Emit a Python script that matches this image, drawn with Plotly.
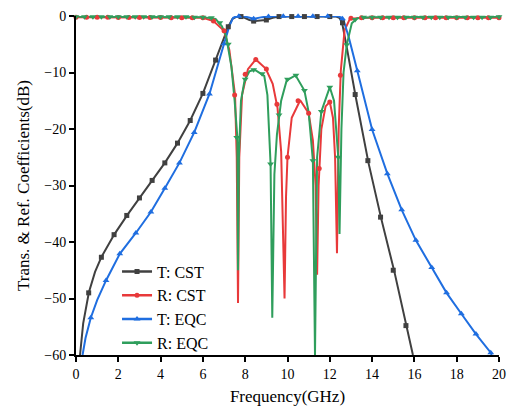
import plotly.graph_objects as go

# ---------------- data ----------------
# T: CST (transmission, CST simulation)
tcst_f = [0.19, 0.34, 0.61, 0.9, 1.21, 1.82, 2.43, 3.0, 3.6, 4.2, 4.8, 5.4, 6.0, 6.6, 7.0, 7.2, 7.4, 7.6,
          7.9, 8.2, 8.46, 8.97, 9.3, 9.6, 10.5, 11.5, 12.3, 12.45, 12.57, 12.8, 13.22, 13.83, 14.44,
          15.05, 15.6, 15.93]
tcst_db = [-60, -54.4, -48.9, -45.3, -42.6, -38.6, -35.2, -32.2, -29.1, -26.0, -22.5, -18.5, -13.7, -7.8,
           -4.0, -1.9, -0.5, -0.1, -0.2, -0.7, -0.9, -0.7, -0.3, -0.1, -0.1, -0.1, -0.1, -0.3, -1.0,
           -5.5, -14.2, -26.0, -36.0, -45.2, -54.8, -60]
tcst_mk_f = [0.6, 1.2, 1.8, 2.4, 3.0, 3.6, 4.2, 4.8, 5.4, 6.0, 6.6, 7.2, 7.8, 8.4, 9.0, 9.6, 10.2, 10.8,
             11.4, 12.0, 12.6, 13.2, 13.8, 14.4, 15.0, 15.6]
tcst_mk_db = [-49.0, -42.7, -38.7, -35.3, -32.2, -29.1, -26.0, -22.5, -18.5, -13.7, -7.8, -1.9, -0.1,
              -0.9, -0.7, -0.1, -0.1, -0.1, -0.1, -0.1, -1.2, -13.9, -25.6, -35.6, -45.0, -54.8]

# R: CST (reflection, CST simulation)
rcst_f = [0, 3, 6, 6.5, 7.0, 7.25, 7.52, 7.6, 7.66, 7.72, 7.85, 8.13, 8.5, 8.97, 9.3, 9.53, 9.7, 9.86,
          9.93, 10.0, 10.2, 10.6, 11.0, 11.2, 11.33, 11.4, 11.47, 11.6, 11.8, 12.0, 12.15, 12.25, 12.34,
          12.42, 12.52, 12.7, 12.95, 13.5, 20]
rcst_db = [-0.2, -0.25, -0.3, -0.9, -2.6, -6.0, -14.0, -25.0, -50.8, -25.0, -14.0, -9.4, -7.7, -9.3,
           -12.0, -16.3, -24.0, -50.0, -32.0, -25.0, -18.0, -14.9, -17.2, -22.0, -30.0, -45.8, -30.0,
           -20.0, -16.0, -15.2, -18.0, -25.0, -42.0, -20.0, -9.7, -2.5, -0.5, -0.3, -0.3]
rcst_mk_f = [0, 0.5, 1, 1.5, 2, 2.5, 3, 3.5, 4, 4.5, 5, 5.5, 6, 6.5, 7, 7.5, 8, 8.5, 9, 9.5, 10, 10.5,
             11, 11.5, 12, 12.5, 13, 13.5, 14, 14.5, 15, 15.5, 16, 16.5, 17, 17.5, 18, 18.5, 19, 19.5, 20]
rcst_mk_db = [-0.2, -0.2, -0.2, -0.2, -0.25, -0.25, -0.25, -0.25, -0.25, -0.3, -0.3, -0.3, -0.3, -0.9,
              -2.6, -14.0, -10.3, -7.7, -9.4, -15.6, -25.0, -15.0, -17.2, -27.0, -15.2, -10.5, -0.4,
              -0.3, -0.3, -0.3, -0.3, -0.3, -0.3, -0.3, -0.3, -0.3, -0.3, -0.3, -0.3, -0.3, -0.3]

# T: EQC (transmission, equivalent circuit)
teqc_f = [0.31, 0.45, 0.7, 1.0, 1.42, 2.07, 2.83, 3.54, 4.2, 4.89, 5.59, 6.31, 7.0, 7.25, 7.43, 7.6, 8.0,
          8.4, 8.8, 9.3, 12.4, 12.55, 12.65, 12.9, 13.3, 14.0, 14.72, 15.4, 16.07, 16.82, 17.52, 18.22,
          18.91, 19.61, 19.65]
teqc_db = [-60, -57.0, -53.4, -50.3, -46.8, -42.1, -38.4, -34.7, -30.5, -26.0, -20.6, -13.8, -4.9, -1.8,
           -0.3, -0.05, -0.1, -0.5, -0.2, -0.05, -0.05, -0.3, -0.7, -3.8, -9.7, -20.1, -27.9, -34.3,
           -39.7, -44.5, -49.0, -52.7, -56.3, -59.6, -60]
teqc_mk_f = [0.7, 1.42, 2.07, 2.83, 3.54, 4.2, 4.89, 5.59, 6.31, 7.0, 7.7, 8.4, 9.1, 9.8, 10.5, 11.2,
             11.9, 12.6, 13.3, 14.0, 14.72, 15.4, 16.07, 16.82, 17.52, 18.22, 18.91, 19.61]
teqc_mk_db = [-53.4, -46.8, -42.1, -38.4, -34.7, -30.5, -26.0, -20.6, -13.8, -4.9, -0.05, -0.5, -0.1,
              -0.05, -0.05, -0.05, -0.05, -0.5, -9.7, -20.1, -27.9, -34.3, -39.7, -44.5, -49.0, -52.7,
              -56.3, -59.6]

# R: EQC (reflection, equivalent circuit)
reqc_f = [0, 6, 6.6, 6.9, 7.1, 7.35, 7.5, 7.63, 7.66, 7.7, 7.8, 7.97, 8.2, 8.44, 8.9, 9.05, 9.2, 9.28,
          9.38, 9.5, 9.7, 9.96, 10.38, 10.8, 11.0, 11.2, 11.3, 11.4, 11.6, 12.0, 12.2, 12.4, 12.46,
          12.55, 12.65, 12.8, 13.04, 13.3, 14, 20]
reqc_db = [-0.15, -0.2, -0.5, -1.8, -3.6, -9.0, -15.0, -21.5, -45.0, -25.0, -15.0, -11.4, -9.8, -9.5,
           -10.6, -14.0, -26.2, -53.4, -28.0, -21.0, -15.0, -11.4, -10.5, -13.2, -17.0, -25.6, -60.0,
           -25.0, -16.9, -12.6, -15.0, -25.0, -38.6, -20.0, -10.0, -5.1, -1.3, -0.4, -0.2, -0.15]
reqc_mk_f = [0, 0.4, 0.8, 1.2, 1.6, 2.0, 2.4, 2.8, 3.2, 3.6, 4.0, 4.4, 4.8, 5.2, 5.6, 6.0, 6.4, 6.8, 7.2,
             7.6, 8.0, 8.4, 8.8, 9.2, 9.6, 10.0, 10.4, 10.8, 11.2, 11.6, 12.0, 12.4, 12.8, 13.2, 13.6,
             14.0, 14.4, 14.8, 15.2, 15.6, 16.0, 16.4, 16.8, 17.2, 17.6, 18.0, 18.4, 18.8, 19.2, 19.6, 20.0]
reqc_mk_db = [-0.15, -0.15, -0.15, -0.15, -0.15, -0.15, -0.15, -0.15, -0.15, -0.15, -0.15, -0.15, -0.15,
              -0.15, -0.2, -0.2, -0.3, -1.2, -5.0, -21.5, -11.2, -9.5, -10.2, -26.2, -17.5, -11.2, -10.5,
              -13.2, -25.6, -16.9, -12.6, -25.0, -5.1, -0.6, -0.2, -0.2, -0.2, -0.2, -0.2, -0.2, -0.2,
              -0.2, -0.2, -0.2, -0.2, -0.2, -0.2, -0.2, -0.2, -0.2, -0.15]

series = [
    ("T: CST", tcst_f, tcst_db, tcst_mk_f, tcst_mk_db, "#404040", "square", 5),
    ("R: CST", rcst_f, rcst_db, rcst_mk_f, rcst_mk_db, "#e8393a", "circle", 5),
    ("T: EQC", teqc_f, teqc_db, teqc_mk_f, teqc_mk_db, "#1f6ee0", "triangle-up", 6),
    ("R: EQC", reqc_f, reqc_db, reqc_mk_f, reqc_mk_db, "#2f9e5c", "triangle-down", 6),
]

fig = go.Figure()
for name, f, db, mf, mdb, col, sym, ms in series:
    fig.add_trace(go.Scatter(x=f, y=db, mode="lines", line=dict(color=col, width=2),
                             showlegend=False, hoverinfo="skip"))
for name, f, db, mf, mdb, col, sym, ms in series:
    fig.add_trace(go.Scatter(x=mf, y=mdb, mode="markers", cliponaxis=False,
                             marker=dict(color=col, symbol=sym, size=ms), showlegend=False))
for name, f, db, mf, mdb, col, sym, ms in series:
    fig.add_trace(go.Scatter(x=[None], y=[None], mode="lines+markers", name=name,
                             line=dict(color=col, width=2.5),
                             marker=dict(color=col, symbol=sym, size=ms)))

font = "Liberation Serif, Times New Roman, serif"
fig.update_layout(
    width=515, height=414,
    margin=dict(l=76, r=11, t=9, b=59),
    paper_bgcolor="white", plot_bgcolor="white",
    font=dict(family=font, color="black"),
    legend=dict(x=0.097, y=0.14, xanchor="left", yanchor="middle",
                font=dict(family=font, size=16, color="black"),
                bgcolor="rgba(0,0,0,0)", tracegroupgap=0, itemwidth=30),
    xaxis=dict(range=[0, 20], tickvals=list(range(0, 21, 2)), showline=True, linecolor="black",
               linewidth=2, ticks="outside", ticklen=5, tickwidth=1.5, tickcolor="black",
               showgrid=False, zeroline=False, tickfont=dict(size=14),
               title=dict(text="Frequency(GHz)", font=dict(size=17), standoff=9)),
    yaxis=dict(range=[-60, 0], tickvals=list(range(-60, 1, 10)), showline=True, linecolor="black",
               linewidth=2, ticks="outside", ticklen=5, tickwidth=1.5, tickcolor="black",
               showgrid=False, zeroline=False, tickfont=dict(size=14),
               title=dict(text="Trans. & Ref. Coefficients(dB)", font=dict(size=17), standoff=10)),
)
fig.write_html("out.html")
